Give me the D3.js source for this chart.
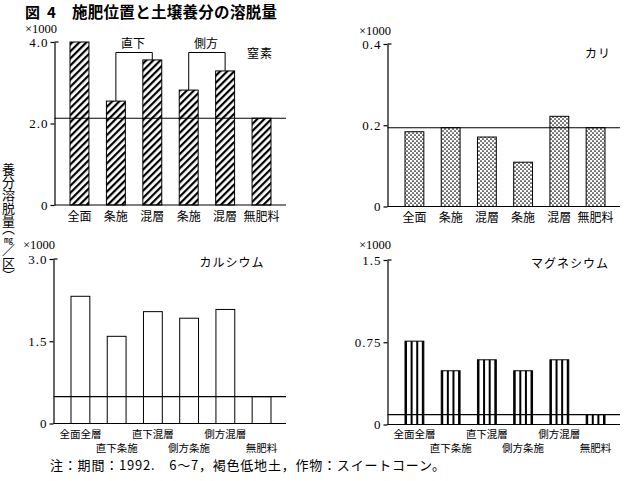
<!DOCTYPE html>
<html>
<head>
<meta charset="utf-8">
<script src="https://cdn.jsdelivr.net/npm/d3@7"></script>
<style>
  html, body { margin: 0; padding: 0; background: #fff; }
  #chart { position: relative; width: 634px; height: 481px; }
  svg { display: block; }
  .jp { font-family: "Noto Sans CJK JP", sans-serif; }
  .num { font-family: "Liberation Serif", "DejaVu Serif", serif; }
  .ylabel {
    position: absolute; left: 2px; top: 163px;
    writing-mode: vertical-rl;
    font-family: "Noto Sans CJK JP", sans-serif;
    font-size: 13px; line-height: 13px;
    font-feature-settings: "vpal";
  }
  .ylabel .tcy { text-combine-upright: all; font-size: 9px; }
</style>
</head>
<body>
<div id="chart"></div>
<script>
// data
const catsTop = ["全面", "条施", "混層", "条施", "混層", "無肥料"];
const catsBottom = ["全面全層", "直下条施", "直下混層", "側方条施", "側方混層", "無肥料"];
const nitrogen = [4.0, 2.55, 3.56, 2.82, 3.29, 2.13];
const potassium = [0.184, 0.194, 0.171, 0.109, 0.222, 0.194];
const calcium = [2.32, 1.59, 2.04, 1.92, 2.08, 0.49];
const magnesium = [0.76, 0.49, 0.59, 0.49, 0.59, 0.09];
const nTicks = [0, 2, 4], nTickLabels = ["0", "2.0", "4.0"];
const kTicks = [0, 0.2, 0.4], kTickLabels = ["0", "0.2", "0.4"];
const caTicks = [0, 1.5, 3], caTickLabels = ["0", "1.5", "3.0"];
const mgTicks = [0, 0.75, 1.5], mgTickLabels = ["0", "0.75", "1.5"];
const brackets = [[1, 2, "直下"], [3, 4, "側方"]];

const W = 634, H = 481;
const container = d3.select("#chart");
const svg = container.append("svg")
    .attr("width", W).attr("height", H);

// fills
const defs = svg.append("defs");
defs.append("pattern").attr("id", "hatch")
    .attr("patternUnits", "userSpaceOnUse")
    .attr("width", 5).attr("height", 5)
    .attr("patternTransform", "rotate(45)")
    .append("rect").attr("x", 0).attr("y", 0)
    .attr("width", 2.2).attr("height", 5).attr("fill", "#000");
const dots = defs.append("pattern").attr("id", "dots")
    .attr("patternUnits", "userSpaceOnUse")
    .attr("width", 4).attr("height", 4);
dots.append("rect").attr("width", 4).attr("height", 4).attr("fill", "#fff");
dots.append("circle").attr("cx", 1).attr("cy", 1).attr("r", 0.85).attr("fill", "#000");
dots.append("circle").attr("cx", 3).attr("cy", 3).attr("r", 0.85).attr("fill", "#000");

const panels = [
    {name: "窒素", values: nitrogen, cats: catsTop, ticks: nTicks, tickLabels: nTickLabels, max: 4,
     x0: 54.5, x1: 286, y0: 205, y1: 42, barL: 70, barR: 271, fill: "url(#hatch)", stagger: false,
     nameX: 260, nameY: 58, unitX: 25, unitY: 33, labY: 221, bracket: true},
    {name: "カリ", values: potassium, cats: catsTop, ticks: kTicks, tickLabels: kTickLabels, max: 0.4,
     x0: 387.5, x1: 620, y0: 206.5, y1: 44, barL: 405, barR: 605, fill: "url(#dots)", stagger: false,
     nameX: 598, nameY: 58, unitX: 359, unitY: 35, labY: 222},
    {name: "カルシウム", values: calcium, cats: catsBottom, ticks: caTicks, tickLabels: caTickLabels, max: 3,
     x0: 53.5, x1: 286, y0: 423.5, y1: 259, barL: 71, barR: 271, fill: "#fff", stagger: true,
     nameX: 232, nameY: 267, unitX: 23, unitY: 249, labY: 438},
    {name: "マグネシウム", values: magnesium, cats: catsBottom, ticks: mgTicks, tickLabels: mgTickLabels, max: 1.5,
     x0: 387.5, x1: 620, y0: 424.5, y1: 260, barL: 405, barR: 605, fill: "#fff", stagger: true,
     nameX: 570, nameY: 268, unitX: 359, unitY: 249, labY: 438, stripes: true}
];

panels.forEach(p => {
    const g = svg.append("g");
    const y = d3.scaleLinear().domain([0, p.max]).range([p.y0, p.y1]);
    const x = d3.scaleBand().domain(d3.range(p.values.length))
        .range([p.barL, p.barR]).paddingInner(0.48).paddingOuter(0);
    const bw = x.bandwidth();
    const cx = i => x(i) + bw / 2;

    // axis_y
    const ax = g.append("g").attr("class", "num")
        .attr("transform", `translate(${p.x0},0)`)
        .call(d3.axisLeft(y).tickValues(p.ticks)
            .tickFormat((d, i) => p.tickLabels[i])
            .tickSizeInner(4).tickSizeOuter(0).tickPadding(2));
    ax.select(".domain").attr("stroke", "#000").attr("stroke-width", 1.2);
    ax.selectAll(".tick line").attr("stroke", "#000").attr("stroke-width", 1.2);
    ax.selectAll(".tick text").attr("font-size", 13).attr("fill", "#000")
        .attr("letter-spacing", 1);
    g.append("path").attr("d", `M${p.x0},${y(p.max)}h4`)
        .attr("stroke", "#000").attr("stroke-width", 1.2);

    // baseline
    g.append("line").attr("x1", p.x0).attr("x2", p.x1)
        .attr("y1", y(0)).attr("y2", y(0))
        .attr("stroke", "#000").attr("stroke-width", 1.2);

    // bars
    g.append("g").selectAll("rect").data(p.values).join("rect")
        .attr("x", (d, i) => x(i)).attr("y", d => y(d))
        .attr("width", bw).attr("height", d => y(0) - y(d))
        .attr("fill", p.fill).attr("stroke", "#000").attr("stroke-width", 1);

    if (p.stripes) {
        p.values.forEach((v, i) => {
            g.append("g").selectAll("line").data(d3.range(4)).join("line")
                .attr("x1", k => x(i) + 1 + k * (bw - 2) / 3)
                .attr("x2", k => x(i) + 1 + k * (bw - 2) / 3)
                .attr("y1", y(v)).attr("y2", y(0))
                .attr("stroke", "#000").attr("stroke-width", 2);
        });
    }

    // no-fertilizer reference line
    const ref = p.values[p.values.length - 1];
    g.append("line").attr("x1", p.x0).attr("x2", p.x1)
        .attr("y1", y(ref)).attr("y2", y(ref))
        .attr("stroke", "#000").attr("stroke-width", 1.1);

    // category labels
    g.append("g").attr("class", "jp").selectAll("text").data(p.cats).join("text")
        .attr("x", (d, i) => cx(i))
        .attr("y", (d, i) => p.stagger && i % 2 === 1 ? p.labY + 14 : p.labY)
        .attr("text-anchor", "middle")
        .attr("font-size", p.stagger ? 10.5 : 12)
        .text(d => d);

    // nutrient name
    g.append("text").attr("class", "jp")
        .attr("x", p.nameX).attr("y", p.nameY)
        .attr("text-anchor", "middle").attr("font-size", 12)
        .attr("letter-spacing", 1)
        .text(p.name);

    // unit
    g.append("text").attr("class", "num")
        .attr("x", p.unitX).attr("y", p.unitY)
        .attr("font-size", 12.5).text("×1000");

    if (p.bracket) {
        brackets.forEach(([a, b, label]) => {
            g.append("path")
                .attr("d", `M${cx(a)},${y(p.values[a])}V52.5H${cx(b)}V${y(p.values[b])}`)
                .attr("fill", "none").attr("stroke", "#000").attr("stroke-width", 1);
            g.append("text").attr("class", "jp")
                .attr("x", (cx(a) + cx(b)) / 2 - 1).attr("y", 48)
                .attr("text-anchor", "middle").attr("font-size", 12)
                .text(label);
        });
    }
});

// title
const title = svg.append("g").attr("class", "jp").attr("font-weight", "bold");
title.append("text").attr("x", 25).attr("y", 18).attr("font-size", 15).text("図");
title.append("text").attr("x", 47).attr("y", 18).attr("font-size", 15).text("4");
title.append("text").attr("x", 72).attr("y", 18).attr("font-size", 15.5)
    .attr("textLength", 205).text("施肥位置と土壌養分の溶脱量");

// y label (vertical)
container.append("div").attr("class", "ylabel")
    .html('養分溶脱量（<span class="tcy">mg</span>／区）');

// footnote
svg.append("text").attr("class", "jp")
    .attr("x", 50).attr("y", 470).attr("font-size", 13)
    .attr("textLength", 395)
    .text("注：期間：1992.　6～7，褐色低地土，作物：スイートコーン。");
</script>
</body>
</html>
